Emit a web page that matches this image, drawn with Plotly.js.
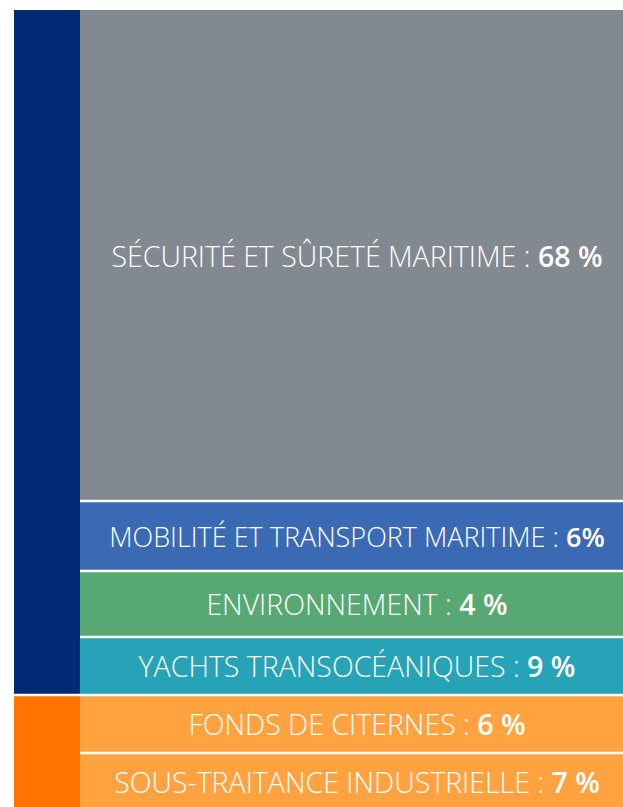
<!DOCTYPE html>
<html>
<head>
<meta charset="utf-8">
<script src="https://cdn.plot.ly/plotly-3.0.1.min.js"></script>
<style>html,body{margin:0;padding:0;background:#fff;}#chart{width:623px;height:807px;}</style>
</head>
<body>
<div id="chart"></div>
<script>
// Activity segments (top to bottom)
var activities = ["SÉCURITÉ ET SÛRETÉ MARITIME", "MOBILITÉ ET TRANSPORT MARITIME", "ENVIRONNEMENT", "YACHTS TRANSOCÉANIQUES", "FONDS DE CITERNES", "SOUS-TRAITANCE INDUSTRIELLE"];
var shares = [68, 6, 4, 9, 6, 7];
var shareLabels = ["68 %", "6%", "4 %", "9 %", "6 %", "7 %"];
// relative block heights as drawn in the picture
var blockHeights = [491, 70, 66, 58, 58, 57];
var activityGroup = ["Maritime", "Maritime", "Maritime", "Maritime", "Industrie", "Industrie"];
var groups = ["Maritime", "Industrie"];
var activityColors = ["#838991", "#3A6AB4", "#58A873", "#26A3B7", "#FFA23F", "#FFA23F"];
var groupColors = ["#002A73", "#FF7300"];

var wL = 0.2129, wR = 2 - wL;
var traces = [];
activities.forEach(function (a, i) {
  traces.push({
    type: "bar", x: ["Activité"], y: [blockHeights[i]], width: [wR],
    marker: {color: activityColors[i], line: {width: 0}},
    text: [a + " : <span style=\"font-weight:600\">" + shareLabels[i] + "</span>"],
    textposition: "inside", insidetextanchor: "middle", constraintext: "none", textangle: 0,
    textfont: {family: "Open Sans", size: i === 1 ? 27 : 28.5, color: "#ffffff", weight: 300},
    hoverinfo: "skip", showlegend: false, customdata: [shares[i]]
  });
});
groups.forEach(function (g, gi) {
  var h = 0;
  activities.forEach(function (a, i) { if (activityGroup[i] === g) h += blockHeights[i]; });
  traces.push({
    type: "bar", x: ["Groupe"], y: [h], width: [wL],
    marker: {color: groupColors[gi], line: {width: 0}},
    hoverinfo: "skip", showlegend: false
  });
});

var shapes = [];
var cum = 0;
for (var i = 0; i < blockHeights.length - 1; i++) {
  cum += blockHeights[i];
  var groupEdge = activityGroup[i] !== activityGroup[i + 1];
  shapes.push({type: "line", xref: "x", yref: "y",
    x0: groupEdge ? -wL / 2 : 1 - wR / 2, x1: 3, y0: cum, y1: cum,
    line: {color: "#ffffff", width: 2.5}});
}

var layout = {
  width: 623, height: 807,
  margin: {l: 14, r: 0, t: 10, b: 0},
  paper_bgcolor: "#ffffff", plot_bgcolor: "#ffffff",
  barmode: "stack", bargap: 0,
  xaxis: {type: "category", categoryorder: "array", categoryarray: ["Groupe", "Activité"],
    range: [-wL / 2, -wL / 2 + 609 / 310], visible: false, fixedrange: true},
  yaxis: {range: [797, 0], visible: false, fixedrange: true},
  shapes: shapes
};
Plotly.newPlot("chart", traces, layout, {staticPlot: true, displayModeBar: false});
</script>
</body>
</html>
